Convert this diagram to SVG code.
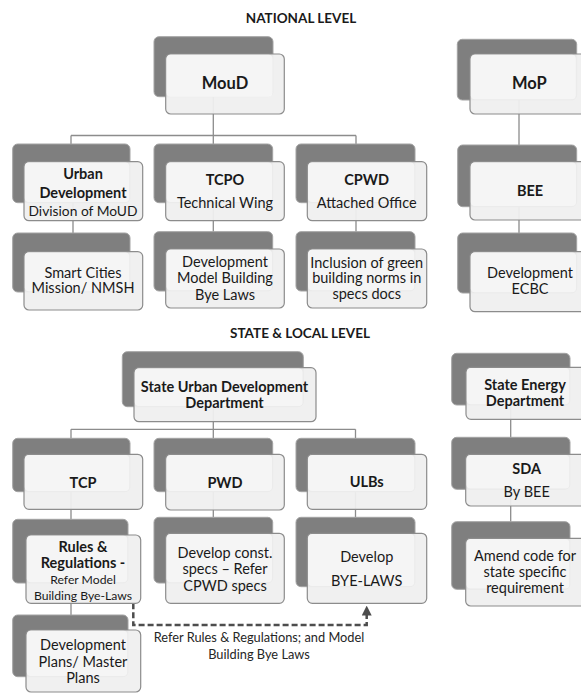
<svg xmlns="http://www.w3.org/2000/svg" width="581" height="693" viewBox="0 0 581 693">
<defs>
<style>
.bk{fill:#7f7f7f;stroke:#a3a3a3;stroke-width:1}
.fr{fill:#efefef;fill-opacity:0.94;stroke:#8c8c8c;stroke-width:1.2}
.hl{fill:#fafafa;fill-opacity:0.75}
.cn{fill:none;stroke:#8c8c8c;stroke-width:1.3}
.dash{fill:none;stroke:#4d4d4d;stroke-width:2.5;stroke-dasharray:6,3}
text{font-family:Lato,"Liberation Sans",sans-serif;fill:#1a1a1a;text-anchor:middle}
.b{font-weight:bold;font-size:14.5px}
.r{font-size:14.5px}
.sm{font-size:12.2px}
.big{font-weight:bold;font-size:16.5px}
.h{font-weight:bold;font-size:13.5px}
.lbl{font-size:12.8px;fill:#262626}
</style>
<marker id="ah" markerWidth="10" markerHeight="10" refX="3.6" refY="5" orient="auto" markerUnits="userSpaceOnUse" viewBox="0 0 10 10">
<path d="M0,0 L10,5 L0,10 z" fill="#4d4d4d"/>
</marker>
</defs>
<rect width="581" height="693" fill="#ffffff"/>

<text class="h" x="301" y="23">NATIONAL  LEVEL</text>
<text class="h" x="300" y="337.5">STATE &amp; LOCAL LEVEL</text>

<g id="connectors">
<path class="cn" d="M213.3,96.7 V144 M71,135.5 H356 M71,135.5 V144 M356,135.5 V144"/>
<path class="cn" d="M519,100 V145"/>
<path class="cn" d="M73,202.7 V233 M213.3,202.7 V231.7 M356,202.7 V231.7 M519,206.7 V233"/>
<path class="cn" d="M213.3,406.7 V438.3 M71,429.3 H355.5 M71,429.3 V438.3 M355.5,429.3 V438.3"/>
<path class="cn" d="M510.7,405 V437.3 M510.7,489.3 V521.7"/>
<path class="cn" d="M71,491.7 V519.3 M71,583 V615 M213.3,491.7 V517.3 M355.5,491.7 V517.3"/>
<path class="dash" d="M133.3,603.3 V625 H366.7 V612" marker-end="url(#ah)"/>
<text class="lbl" x="259" y="642">Refer Rules &amp; Regulations; and Model</text>
<text class="lbl" x="259" y="658.5">Building Bye Laws</text>
</g>

<g id="moud">
<rect class="bk" x="154" y="36.7" width="119" height="60" rx="5"/>
<rect class="fr" x="165.7" y="54" width="118.6" height="60" rx="5"/>
<rect class="hl" x="166.5" y="54.8" width="106" height="42" rx="4"/>
<text class="big" x="225" y="89.3">MouD</text>
</g>

<g id="mop">
<rect class="bk" x="457.3" y="39.3" width="119.4" height="60.7" rx="5"/>
<rect class="fr" x="470" y="54" width="119" height="60" rx="5"/>
<rect class="hl" x="470.8" y="54.8" width="105" height="44.5" rx="4"/>
<text class="big" x="529.3" y="89.3">MoP</text>
</g>

<g id="urban-dev">
<rect class="bk" x="12.7" y="144" width="117.3" height="58.7" rx="5"/>
<rect class="fr" x="24" y="161.7" width="118.7" height="59" rx="5"/>
<rect class="hl" x="24.8" y="162.5" width="104.5" height="39.5" rx="4"/>
<text class="b" x="83" y="178.5">Urban</text>
<text class="b" x="83" y="197.5">Development</text>
<text class="r" x="83" y="215.5" style="font-size:13.8px">Division of MoUD</text>
</g>

<g id="tcpo">
<rect class="bk" x="154" y="144" width="118.7" height="58.7" rx="5"/>
<rect class="fr" x="165.7" y="161.7" width="118.6" height="59" rx="5"/>
<rect class="hl" x="166.5" y="162.5" width="105.5" height="39.5" rx="4"/>
<text class="b" x="225" y="185">TCPO</text>
<text class="r" x="225" y="207.5">Technical Wing</text>
</g>

<g id="cpwd">
<rect class="bk" x="296" y="144" width="119" height="58.7" rx="5"/>
<rect class="fr" x="307.3" y="161.7" width="119.4" height="59" rx="5"/>
<rect class="hl" x="308.1" y="162.5" width="106.2" height="39.5" rx="4"/>
<text class="b" x="366.7" y="185">CPWD</text>
<text class="r" x="366.7" y="207.5">Attached Office</text>
</g>

<g id="bee">
<rect class="bk" x="457.7" y="145" width="119" height="61.7" rx="5"/>
<rect class="fr" x="470" y="161.7" width="119" height="58.3" rx="5"/>
<rect class="hl" x="470.8" y="162.5" width="105.2" height="43.5" rx="4"/>
<text class="b" x="530" y="196">BEE</text>
</g>

<g id="smart-cities">
<rect class="bk" x="12.7" y="233" width="117.3" height="59" rx="5"/>
<rect class="fr" x="24" y="251.7" width="118.7" height="58.3" rx="5"/>
<rect class="hl" x="24.8" y="252.5" width="104.5" height="38.8" rx="4"/>
<text class="r" x="83" y="277.5">Smart Cities</text>
<text class="r" x="83" y="293.2">Mission/ NMSH</text>
</g>

<g id="model-bye-laws">
<rect class="bk" x="154" y="231.7" width="118.7" height="59.3" rx="5"/>
<rect class="fr" x="165.7" y="249" width="118.6" height="59" rx="5"/>
<rect class="hl" x="166.5" y="249.8" width="105.5" height="40.5" rx="4"/>
<text class="r" x="225" y="266.5">Development</text>
<text class="r" x="225" y="283.2">Model Building</text>
<text class="r" x="225" y="299.9">Bye Laws</text>
</g>

<g id="green-norms">
<rect class="bk" x="296" y="231.7" width="119" height="59.3" rx="5"/>
<rect class="fr" x="307.3" y="249" width="119.4" height="59" rx="5"/>
<rect class="hl" x="308.1" y="249.8" width="106.2" height="40.5" rx="4"/>
<text class="r" x="366.7" y="267.5">Inclusion of green</text>
<text class="r" x="366.7" y="283.2">building norms in</text>
<text class="r" x="366.7" y="298.9">specs docs</text>
</g>

<g id="ecbc">
<rect class="bk" x="457.7" y="233" width="119" height="60" rx="5"/>
<rect class="fr" x="470" y="251.7" width="119" height="60" rx="5"/>
<rect class="hl" x="470.8" y="252.5" width="105.2" height="39.8" rx="4"/>
<text class="r" x="530" y="278">Development</text>
<text class="r" x="530" y="294">ECBC</text>
</g>

<g id="state-ud">
<rect class="bk" x="122.3" y="351.7" width="181" height="55" rx="5"/>
<rect class="fr" x="134" y="367.7" width="182" height="54" rx="5"/>
<rect class="hl" x="134.8" y="368.5" width="167.8" height="37.5" rx="4"/>
<text class="b" x="224.5" y="391.7">State Urban Development</text>
<text class="b" x="224.5" y="407.7">Department</text>
</g>

<g id="state-energy">
<rect class="bk" x="451.7" y="353.3" width="118.3" height="51.7" rx="5"/>
<rect class="fr" x="466" y="367.3" width="120" height="52" rx="5"/>
<rect class="hl" x="466.8" y="368.1" width="102.5" height="36.2" rx="4"/>
<text class="b" x="525" y="390">State Energy</text>
<text class="b" x="525" y="405.7">Department</text>
</g>

<g id="tcp">
<rect class="bk" x="12.7" y="438.3" width="117.3" height="53.4" rx="5"/>
<rect class="fr" x="24" y="454.3" width="118.7" height="55" rx="5"/>
<rect class="hl" x="24.8" y="455.1" width="104.5" height="35.9" rx="4"/>
<text class="b" x="83" y="488.3">TCP</text>
</g>

<g id="pwd">
<rect class="bk" x="154" y="438.3" width="118.7" height="53.4" rx="5"/>
<rect class="fr" x="165.7" y="454.3" width="118.6" height="55.7" rx="5"/>
<rect class="hl" x="166.5" y="455.1" width="105.5" height="35.9" rx="4"/>
<text class="b" x="225" y="488.3">PWD</text>
</g>

<g id="ulbs">
<rect class="bk" x="296" y="438.3" width="119" height="53.4" rx="5"/>
<rect class="fr" x="307.3" y="454.3" width="119.4" height="55" rx="5"/>
<rect class="hl" x="308.1" y="455.1" width="106.2" height="35.9" rx="4"/>
<text class="b" x="366.7" y="486.7">ULBs</text>
</g>

<g id="sda">
<rect class="bk" x="451.7" y="437.3" width="118.3" height="52" rx="5"/>
<rect class="fr" x="465.7" y="454.3" width="119" height="51.7" rx="5"/>
<rect class="hl" x="466.5" y="455.1" width="102.8" height="33.5" rx="4"/>
<text class="b" x="526.7" y="474.3">SDA</text>
<text class="r" x="526.7" y="496.7">By BEE</text>
</g>

<g id="rules">
<rect class="bk" x="12.7" y="519.3" width="115.3" height="63.7" rx="5"/>
<rect class="fr" x="26" y="535" width="114.7" height="68.3" rx="5"/>
<rect class="hl" x="26.8" y="535.8" width="100.5" height="46.5" rx="4"/>
<text class="b" x="83" y="551.7">Rules &amp;</text>
<text class="b" x="83" y="568.3">Regulations -</text>
<text class="sm" x="83" y="584">Refer Model</text>
<text class="sm" x="83" y="599.5">Building Bye-Laws</text>
</g>

<g id="const-specs">
<rect class="bk" x="154" y="517.3" width="118.7" height="65.7" rx="5"/>
<rect class="fr" x="165.7" y="533.3" width="118.6" height="70" rx="5"/>
<rect class="hl" x="166.5" y="534.1" width="105.5" height="48.2" rx="4"/>
<text class="r" x="225" y="558.3">Develop const.</text>
<text class="r" x="225" y="574.3">specs – Refer</text>
<text class="r" x="225" y="590.7">CPWD specs</text>
</g>

<g id="bye-laws">
<rect class="bk" x="296" y="517.3" width="119" height="69.4" rx="5"/>
<rect class="fr" x="307.3" y="533.3" width="119.4" height="70" rx="5"/>
<rect class="hl" x="308.1" y="534.1" width="106.2" height="51.9" rx="4"/>
<text class="r" x="366.7" y="561.7">Develop</text>
<text class="r" x="366.7" y="586">BYE-LAWS</text>
</g>

<g id="amend-code">
<rect class="bk" x="451.7" y="521.7" width="118.3" height="67.6" rx="5"/>
<rect class="fr" x="465.7" y="538.3" width="119" height="67.7" rx="5"/>
<rect class="hl" x="466.5" y="539.1" width="102.8" height="49.5" rx="4"/>
<text class="r" x="525" y="561">Amend code for</text>
<text class="r" x="525" y="577.3">state specific</text>
<text class="r" x="525" y="593.3">requirement</text>
</g>

<g id="dev-plans">
<rect class="bk" x="12.7" y="615" width="115.3" height="61.7" rx="5"/>
<rect class="fr" x="26" y="630" width="114.7" height="62" rx="5"/>
<rect class="hl" x="26.8" y="630.8" width="100.5" height="45.2" rx="4"/>
<text class="r" x="83" y="650">Development</text>
<text class="r" x="83" y="666.7">Plans/ Master</text>
<text class="r" x="83" y="683.3">Plans</text>
</g>
</svg>
